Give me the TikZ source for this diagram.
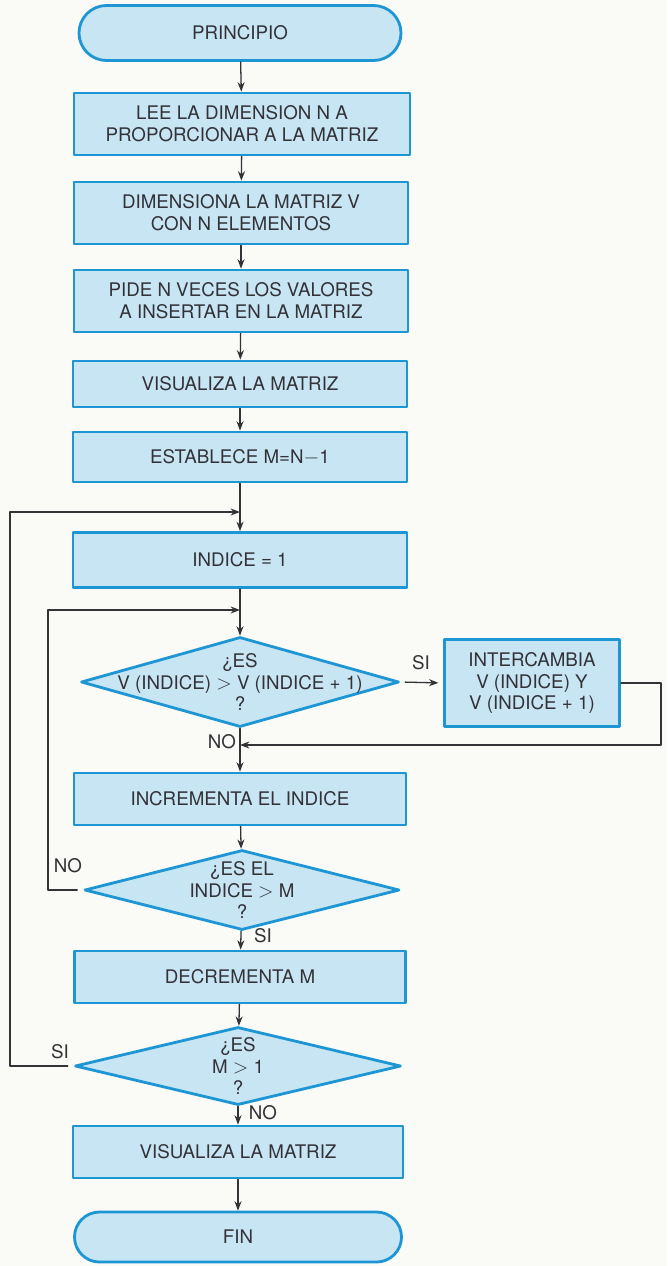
\documentclass[tikz,border=0pt]{standalone}
\usepackage{fontspec}
\setmainfont{TeX Gyre Heros}
\usetikzlibrary{shapes.geometric,arrows.meta}
\definecolor{azul}{RGB}{30,150,212}
\definecolor{celeste}{RGB}{200,229,244}
\definecolor{gris}{RGB}{50,50,55}
\definecolor{papel}{RGB}{250,250,246}
\def\u{0.3mm}

\begin{document}
\begin{tikzpicture}[x=0.3mm,y=-0.3mm,>={Stealth[length=8pt,width=6pt]}, font=\fontsize{16}{18.5}\selectfont, line join=round, line cap=round,
	caja/.style 2 args={draw=azul, fill=celeste, line width=2.4pt, text=gris, align=center, inner sep=0pt, minimum width=#1*\u, minimum height=#2*\u},
	term/.style 2 args={caja={#1}{#2}, rounded corners=#2/2*\u},
	decision/.style 2 args={caja={#1}{#2}, shape=diamond},
	texto/.style={text=gris, align=center, inner sep=0pt},
	linea/.style={draw=gris, line width=1.1pt}]
	\fill[papel] (0,0) rectangle (667,1266);
	\useasboundingbox (0,0) rectangle (667,1266);
	% columna principal
	\node[term={322}{55}] (start) at (240,33) {PRINCIPIO};
	\node[caja={336}{62}] (lee) at (242,124) {LEE LA DIMENSION N A\\PROPORCIONAR A LA MATRIZ};
	\node[caja={334}{62}] (dim) at (241,213) {DIMENSIONA LA MATRIZ V\\CON N ELEMENTOS};
	\node[caja={334}{62}] (pide) at (241,301) {PIDE N VECES LOS VALORES\\A INSERTAR EN LA MATRIZ};
	\node[caja={334}{46}] (vis1) at (240,384) {VISUALIZA LA MATRIZ};
	\node[caja={334}{50}] (est) at (240,457) {ESTABLECE M=N$-$1};
	\node[caja={334}{55}] (ind) at (240,560) {INDICE = 1};
	\node[decision={318}{90}] (q1) at (240,682) {};
	\node[texto] (q1t) at (q1) {¿ES\\V (INDICE) $>$ V (INDICE + 1)\\?};
	\node[caja={175}{87}] (swap) at (532,683) {INTERCAMBIA\\V (INDICE) Y\\V (INDICE + 1)};
	\node[caja={332}{52}] (inc) at (240,799) {INCREMENTA EL INDICE};
	\node[decision={315}{80}] (q2) at (242,890) {};
	\node[texto] (q2t) at (q2) {¿ES EL\\INDICE $>$ M\\?};
	\node[caja={331}{52}] (dec) at (240,977) {DECREMENTA M};
	\node[decision={326}{78}] (q3) at (238,1066) {};
	\node[texto] (q3t) at (q3) {¿ES\\M $>$ 1\\?};
	\node[caja={330}{52}] (vis2) at (238,1152) {VISUALIZA LA MATRIZ};
	\node[term={327}{50}] (fin) at (238,1237) {FIN};
	\coordinate (j1) at (240,512);
	\coordinate (j2) at (240,610);
	\coordinate (j3) at (240,745);
	\coordinate (o1) at (10,512);
	\coordinate (o2) at (48,610);
	\draw[linea,->] (start) -- (lee);
	\draw[linea,->] (lee) -- (dim);
	\draw[linea,->] (dim) -- (pide);
	\draw[linea,->] (pide) -- (vis1);
	\draw[linea,->] (vis1) -- (est);
	\draw[linea,->] (est) -- (ind);
	\draw[linea,->] (ind) -- (q1);
	\draw[linea,->] (q1) -- (inc);
	\draw[linea,->] (inc) -- (q2);
	\draw[linea,->] (q2) -- (dec);
	\draw[linea,->] (dec) -- (q3);
	\draw[linea,->] (q3) -- (vis2);
	\draw[linea,->] (vis2) -- (fin);
	\draw[linea,->,shorten <=4pt,shorten >=4pt] (q1.east) -- (swap.west);
	\draw[linea,->] (swap.east) -- ++(40,0) |- (j3);
	\draw[linea,->,shorten <=5pt] (q2.west) -| (o2) -- (j2);
	\draw[linea,->,shorten <=5pt] (q3.west) -| (o1) -- (j1);
	% etiquetas
	\node[texto] (si1) at (421,663) {SI};
	\node[texto] (no1) at (222,742) {NO};
	\node[texto] (no2) at (68,866) {NO};
	\node[texto] (si2) at (263,936) {SI};
	\node[texto] (si3) at (60,1052) {SI};
	\node[texto] (no3) at (263,1113) {NO};
\end{tikzpicture}
\end{document}
